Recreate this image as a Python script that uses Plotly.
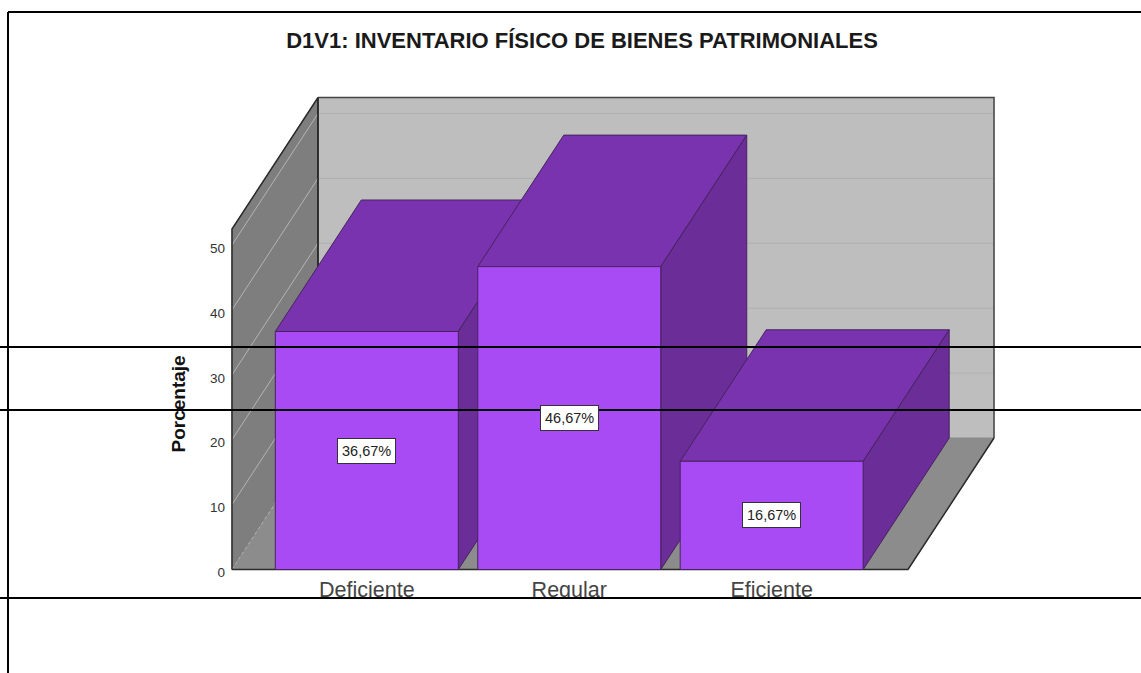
import plotly.graph_objects as go

title = "D1V1: INVENTARIO FÍSICO DE BIENES PATRIMONIALES"
categories = ["Deficiente", "Regular", "Eficiente"]
porcentaje = [36.67, 46.67, 16.67]
etiquetas = ["36,67%", "46,67%", "16,67%"]
y_ticks = [0, 10, 20, 30, 40, 50]

W, H = 1141, 673
# pixel frame of the chart's front plane, measured on the picture
PX_LEFT, PX_RIGHT, PX_BOTTOM, PX_TOP = 232, 908, 569.5, 229
PX_PER_CAT, PX_PER_UNIT = 202.45, 6.49
CAT0_PX = 366.8
PAD = 3
# 3d look: how far the back plane is shifted
DEPTH_PX_X, DEPTH_PX_Y = 86, 131.5
DX = DEPTH_PX_X / PX_PER_CAT
DY = DEPTH_PX_Y / PX_PER_UNIT
BAR_W = 183 / PX_PER_CAT

X0 = (PX_LEFT - CAT0_PX) / PX_PER_CAT
X1 = (PX_RIGHT - CAT0_PX) / PX_PER_CAT
Y1 = (PX_BOTTOM - PX_TOP) / PX_PER_UNIT

# lines and fills are always clipped to the subplot, so the axes have to hold the whole box
AX_LEFT, AX_RIGHT = PX_LEFT - PAD, PX_RIGHT + DEPTH_PX_X + PAD
AX_BOTTOM, AX_TOP = PX_BOTTOM + PAD, PX_TOP - DEPTH_PX_Y - PAD

FRONT, TOP, SIDE, EDGE = "#A94BF5", "#7A33AE", "#6B2D98", "#46235F"
BACK, LEFT_WALL, FLOOR, FRAME = "#BEBEBE", "#7E7E7E", "#8C8C8C", "#2B2B2B"


def face(fig, xs, ys, fill, line=None, width=1):
    fig.add_trace(go.Scatter(x=xs + xs[:1], y=ys + ys[:1], mode="lines", fill="toself",
                             fillcolor=fill, line=dict(color=line or fill, width=width),
                             hoverinfo="skip", showlegend=False))


def path(fig, xs, ys, color, width=1, dash="solid"):
    fig.add_trace(go.Scatter(x=xs, y=ys, mode="lines", line=dict(color=color, width=width, dash=dash),
                             hoverinfo="skip", showlegend=False))


fig = go.Figure()

# walls and floor
face(fig, [X0 + DX, X1 + DX, X1 + DX, X0 + DX], [DY, DY, Y1 + DY, Y1 + DY], BACK)
face(fig, [X0, X0 + DX, X0 + DX, X0], [0, DY, Y1 + DY, Y1], LEFT_WALL)
face(fig, [X0, X1, X1 + DX, X0 + DX], [0, 0, DY, DY], FLOOR)

# gridlines run along the left wall and across the back wall
for v in y_ticks[1:]:
    path(fig, [X0, X0 + DX], [v, v + DY], "#B4B4B4")
    path(fig, [X0 + DX, X1 + DX], [v + DY, v + DY], "#B0B0B0")
path(fig, [X0, X0 + DX], [0, DY], "#B4B4B4", dash="dot")

# outer edges of the box
path(fig, [X0 + DX, X0 + DX], [DY, Y1 + DY], "#111111", width=1.5)
path(fig, [X0 + DX, X1 + DX, X1 + DX], [Y1 + DY, Y1 + DY, DY], "#444444", width=1.5)
path(fig, [X0 + DX, X0, X0], [Y1 + DY, Y1, 0], FRAME, width=1.5)
path(fig, [X0, X1, X1 + DX], [0, 0, DY], FRAME, width=1.5)

# bars, left to right so each one covers the previous
for i, v in enumerate(porcentaje):
    a, b = i - BAR_W / 2, i + BAR_W / 2
    face(fig, [a, b, b + DX, a + DX], [v, v, v + DY, v + DY], TOP, EDGE)
    face(fig, [b, b + DX, b + DX, b], [0, DY, v + DY, v], SIDE, EDGE)
    face(fig, [a, b, b, a], [0, 0, v, v], FRONT, EDGE)

for i, v in enumerate(porcentaje):
    fig.add_annotation(x=i, y=v / 2, text=etiquetas[i], showarrow=False,
                       font=dict(family="Liberation Sans", size=14.5, color="#222222"),
                       bgcolor="white", bordercolor="#333333", borderwidth=1, borderpad=4)

fig.add_annotation(x=165 / W, y=1 - 404 / H, xref="paper", yref="paper", text="Porcentaje",
                   textangle=-90, showarrow=False,
                   font=dict(family="Liberation Sans", size=19, color="#111111", weight="bold"))

# white strip under the line hides the bottom of the category labels
fig.add_shape(type="rect", xref="paper", yref="paper", x0=8 / W, x1=1, y0=0, y1=1 - 598 / H,
              fillcolor="white", line_width=0, layer="above")
for py in [347, 410, 598]:
    fig.add_shape(type="line", xref="paper", yref="paper", x0=0, x1=1, y0=1 - py / H, y1=1 - py / H,
                  line=dict(color="black", width=2), layer="above")
fig.add_shape(type="line", xref="paper", yref="paper", x0=8 / W, x1=1, y0=1 - 12 / H, y1=1 - 12 / H,
              line=dict(color="black", width=2), layer="above")
fig.add_shape(type="line", xref="paper", yref="paper", x0=8 / W, x1=8 / W, y0=0, y1=1 - 12 / H,
              line=dict(color="black", width=2), layer="above")

fig.update_layout(
    width=W, height=H, margin=dict(l=0, r=0, t=0, b=0, autoexpand=False),
    paper_bgcolor="white", plot_bgcolor="white", showlegend=False,
    font=dict(family="Liberation Sans"),
    title=dict(text=title, x=582 / W, y=1 - 40 / H, xanchor="center", yanchor="middle",
               font=dict(family="Liberation Sans", size=22, color="#1A1A1A", weight="bold")),
    xaxis=dict(domain=[AX_LEFT / W, AX_RIGHT / W],
               range=[(AX_LEFT - CAT0_PX) / PX_PER_CAT, (AX_RIGHT - CAT0_PX) / PX_PER_CAT],
               showgrid=False, zeroline=False, showline=False,
               tickmode="array", tickvals=list(range(len(categories))), ticktext=categories,
               tickfont=dict(size=21.5, color="#444444"), ticks="", ticklabelstandoff=2),
    yaxis=dict(domain=[1 - AX_BOTTOM / H, 1 - AX_TOP / H],
               range=[(PX_BOTTOM - AX_BOTTOM) / PX_PER_UNIT, (PX_BOTTOM - AX_TOP) / PX_PER_UNIT],
               showgrid=False, zeroline=False, showline=False,
               tickmode="array", tickvals=y_ticks,
               tickfont=dict(size=13.5, color="#333333"), ticks="", ticklabelstandoff=3,
               ticklabelshift=3),
)

# default page margin would push the figure off by 8px
fig.write_html("out.html", config={"displayModeBar": False},
               post_script="document.body.style.margin='0';document.body.style.overflow='hidden';")
